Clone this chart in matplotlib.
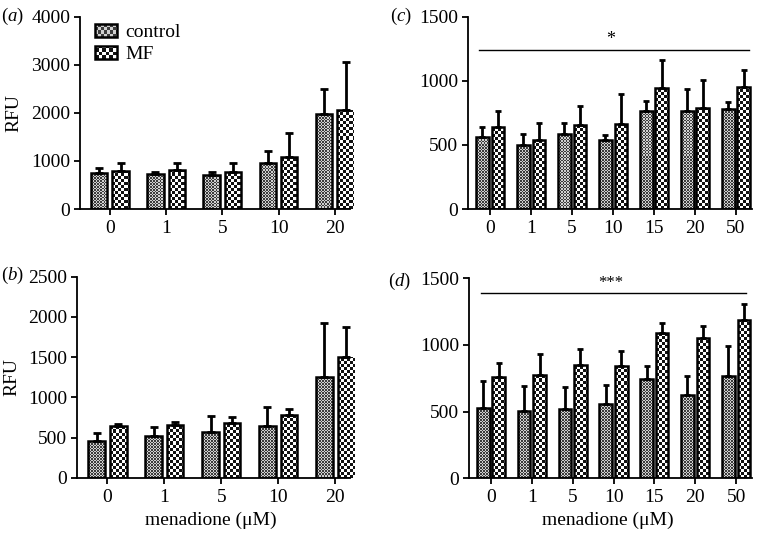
import numpy as np
import matplotlib
matplotlib.use('Agg')
import matplotlib.pyplot as plt
from matplotlib.patches import Rectangle
from matplotlib.legend_handler import HandlerBase

plt.rcParams['font.family'] = ['Liberation Serif', 'DejaVu Serif']
plt.rcParams['mathtext.fontset'] = 'custom'
plt.rcParams['mathtext.rm'] = 'Liberation Serif'
plt.rcParams['mathtext.it'] = 'Liberation Serif:italic'

# ---------------- data ----------------
conc_ab = ['0', '1', '5', '10', '20']
conc_cd = ['0', '1', '5', '10', '15', '20', '50']

a_control = [740, 725, 705, 965, 1975]
a_control_err = [107, 45, 65, 243, 520]
a_mf = [800, 820, 780, 1075, 2065]
a_mf_err = [150, 130, 170, 508, 991]

b_control = [455, 520, 570, 645, 1255]
b_control_err = [105, 110, 201, 238, 673]
b_mf = [640, 650, 680, 780, 1500]
b_mf_err = [27, 38, 79, 74, 378]

c_control = [565, 503, 585, 542, 765, 765, 778]
c_control_err = [72, 82, 83, 33, 77, 174, 57]
c_mf = [637, 542, 652, 662, 943, 787, 950]
c_mf_err = [130, 126, 151, 232, 217, 217, 137]

d_control = [530, 508, 523, 560, 748, 626, 770]
d_control_err = [202, 184, 162, 140, 92, 141, 222]
d_mf = [763, 776, 850, 843, 1090, 1056, 1190]
d_mf_err = [104, 159, 120, 112, 77, 89, 120]

series_labels = ['control', 'MF']

# ---------------- style ----------------
CTRL_CELL, CTRL_C1, CTRL_C2 = 1.5, '#3c3c3c', '#d0d0d0'
MF_CELL, MF_C1, MF_C2 = 3.0, '#111111', '#ffffff'
EDGE_LW = 1.8
FS = 14

W, H = 759, 535
fig = plt.figure(figsize=(W / 100, H / 100), dpi=100)


def px_axes(l, r, t, b):
    return fig.add_axes([l / W, 1 - b / H, (r - l) / W, (b - t) / H])


def add_texture(ax, patches, cell_px, c1, c2):
    xl, yl = ax.get_xlim(), ax.get_ylim()
    for p in patches:
        x0d, y0d = p.get_x(), p.get_y()
        x1d, y1d = x0d + p.get_width(), y0d + p.get_height()
        (x0, y0), (x1, y1) = ax.transData.transform([(x0d, y0d), (x1d, y1d)])
        wpx, hpx = abs(x1 - x0), abs(y1 - y0)
        if wpx <= 0 or hpx <= 0:
            continue
        nx = int(np.ceil(wpx / cell_px)) + 1
        ny = int(np.ceil(hpx / cell_px)) + 1
        cw = cell_px * (x1d - x0d) / wpx
        ch = cell_px * (y1d - y0d) / hpx
        ii, jj = np.meshgrid(np.arange(nx), np.arange(ny))
        chk = ((ii + jj) % 2).astype(float)
        cmap = matplotlib.colors.ListedColormap([c1, c2])
        im = ax.imshow(chk, cmap=cmap, vmin=0, vmax=1, origin='lower',
                       extent=(x0d, x0d + nx * cw, y0d, y0d + ny * ch),
                       interpolation='nearest', aspect='auto', zorder=2)
        im.set_clip_path(p)
    ax.set_xlim(xl)
    ax.set_ylim(yl)


class CheckerHandler(HandlerBase):
    def __init__(self, cell, c1, c2):
        super().__init__()
        self.cell, self.c1, self.c2 = cell, c1, c2

    def create_artists(self, legend, orig_handle, xdescent, ydescent,
                       width, height, fontsize, trans):
        x0, y0 = -xdescent, -ydescent
        arts = [Rectangle((x0, y0), width, height, facecolor=self.c2,
                          edgecolor='none', transform=trans)]
        nx = int(np.ceil(width / self.cell))
        ny = int(np.ceil(height / self.cell))
        for i in range(nx):
            for j in range(ny):
                if (i + j) % 2 == 0:
                    w = min(self.cell, width - i * self.cell)
                    h = min(self.cell, height - j * self.cell)
                    arts.append(Rectangle((x0 + i * self.cell, y0 + j * self.cell), w, h,
                                          facecolor=self.c1, edgecolor='none',
                                          transform=trans))
        arts.append(Rectangle((x0, y0), width, height, facecolor='none',
                              edgecolor='k', lw=EDGE_LW, transform=trans))
        return arts


def panel(ax, cats, ctrl, ctrl_err, mf, mf_err, ymax, ystep, xlim,
          bw, off, capsize):
    x = np.arange(len(cats))
    ax.set_xlim(*xlim)
    ax.set_ylim(0, ymax)
    bc = ax.bar(x - off, ctrl, bw, facecolor='none', edgecolor='k',
                linewidth=EDGE_LW, zorder=3, label=series_labels[0])
    bm = ax.bar(x + off, mf, bw, facecolor='none', edgecolor='k',
                linewidth=EDGE_LW, zorder=3, label=series_labels[1])
    ax.errorbar(x - off, ctrl, yerr=[np.zeros(len(ctrl)), ctrl_err], fmt='none',
                ecolor='k', elinewidth=2.0, capsize=capsize, capthick=2.0, zorder=2.5)
    ax.errorbar(x + off, mf, yerr=[np.zeros(len(mf)), mf_err], fmt='none',
                ecolor='k', elinewidth=2.0, capsize=capsize, capthick=2.0, zorder=2.5)
    ax.set_xticks(x)
    ax.set_xticklabels(cats)
    ax.set_yticks(np.arange(0, ymax + 1, ystep))
    for s in ['top', 'right']:
        ax.spines[s].set_visible(False)
    for s in ['left', 'bottom']:
        ax.spines[s].set_linewidth(1.3)
    ax.tick_params(axis='both', labelsize=FS, length=4, width=1.3, direction='out')
    ax.tick_params(axis='y', pad=3)
    ax.tick_params(axis='x', pad=4)
    add_texture(ax, bc.patches, CTRL_CELL, CTRL_C1, CTRL_C2)
    add_texture(ax, bm.patches, MF_CELL, MF_C1, MF_C2)
    return bc, bm


ax_a = px_axes(80, 350, 16.7, 209)
ax_b = px_axes(76.7, 350, 276.7, 477.7)
ax_c = px_axes(468, 752, 16.7, 209)
ax_d = px_axes(469, 752, 278.3, 478.3)

bc, bm = panel(ax_a, conc_ab, a_control, a_control_err, a_mf, a_mf_err,
               4000, 1000, (-0.53, 4.27), 0.29, 0.19, 3)
panel(ax_b, conc_ab, b_control, b_control_err, b_mf, b_mf_err,
      2500, 500, (-0.54, 4.26), 0.29, 0.19, 3)
panel(ax_c, conc_cd, c_control, c_control_err, c_mf, c_mf_err,
      1500, 500, (-0.54, 6.39), 0.31, 0.19, 2.2)
panel(ax_d, conc_cd, d_control, d_control_err, d_mf, d_mf_err,
      1500, 500, (-0.54, 6.39), 0.31, 0.19, 2.2)

# legend
ax_a.legend([bc, bm], series_labels,
            handler_map={bc: CheckerHandler(2.2, CTRL_C1, CTRL_C2),
                         bm: CheckerHandler(2.6, MF_C1, MF_C2)},
            loc='upper left', bbox_to_anchor=(0.005, 1.035), frameon=False,
            fontsize=FS, handlelength=1.15, handleheight=0.65,
            handletextpad=0.4, labelspacing=0.25, borderpad=0.2)

# significance bars
ax_c.plot([-0.27, 6.32], [1240, 1240], color='k', lw=1.0, clip_on=False)
ax_c.text(2.93, 1325, '*', ha='center', va='center', fontsize=13)
ax_d.plot([-0.25, 6.25], [1392, 1392], color='k', lw=1.0, clip_on=False)
ax_d.text(2.93, 1462, '***', ha='center', va='center', fontsize=12)

# axis labels
for ax in (ax_a, ax_b):
    ax.text(-0.245 if ax is ax_a else -0.238, 0.5, 'RFU', rotation=90,
            ha='center', va='center', fontsize=FS, transform=ax.transAxes)
for ax in (ax_b, ax_d):
    ax.text(0.49, -0.21, 'menadione (μM)', ha='center', va='center',
            fontsize=FS, transform=ax.transAxes)

# panel labels
for lbl, xp, yp in [('a', 1, 16), ('b', 1, 275), ('c', 390, 16), ('d', 388, 281)]:
    fig.text(xp / W, 1 - yp / H, '(' + r'$\mathit{' + lbl + '}$' + ')',
             ha='left', va='center', fontsize=13.5)

fig.savefig('out.png', dpi=100)
